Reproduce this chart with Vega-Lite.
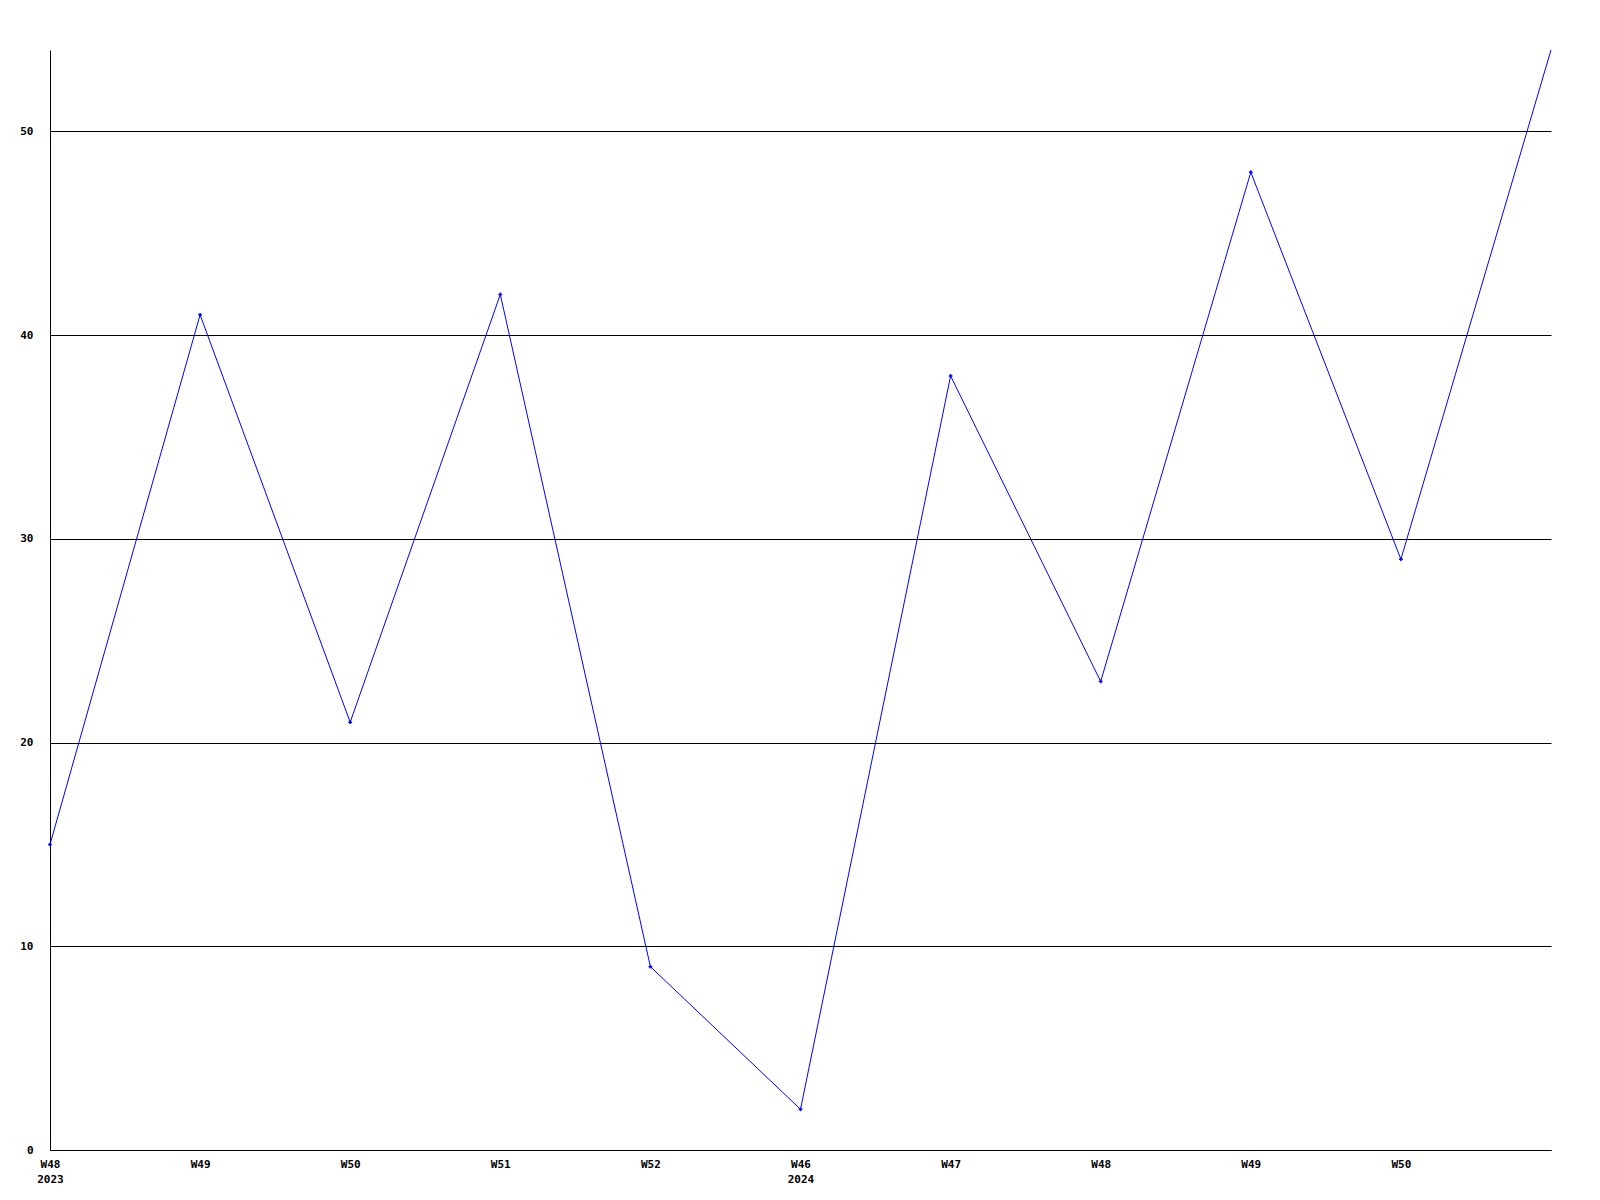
{
  "$schema": "https://vega.github.io/schema/vega-lite/v6.json",
  "width": 1501,
  "height": 1100,
  "autosize": {"type": "none"},
  "padding": {"left": 50, "top": 50, "right": 49, "bottom": 50},
  "background": "white",
  "config": {
    "view": {"stroke": null},
    "axis": {
      "labelFont": "DejaVu Sans Mono",
      "labelFontWeight": "bold",
      "labelFontSize": 11,
      "labelColor": "black",
      "domainColor": "black",
      "domainWidth": 1,
      "ticks": false,
      "title": null
    }
  },
  "data": {
    "values": [
      {"key": "2023-W48", "value": 15},
      {"key": "2023-W49", "value": 41},
      {"key": "2023-W50", "value": 21},
      {"key": "2023-W51", "value": 42},
      {"key": "2023-W52", "value": 9},
      {"key": "2024-W46", "value": 2},
      {"key": "2024-W47", "value": 38},
      {"key": "2024-W48", "value": 23},
      {"key": "2024-W49", "value": 48},
      {"key": "2024-W50", "value": 29},
      {"key": "2024-W51", "value": 54}
    ]
  },
  "encoding": {
    "x": {
      "field": "key",
      "type": "ordinal",
      "sort": null,
      "scale": {"type": "point", "padding": 0},
      "axis": {
        "labelAngle": 0,
        "labelPadding": 8,
        "labelLineHeight": 15,
        "labelAlign": "center",
        "labelBaseline": "top",
        "grid": false,
        "labelExpr": "datum.value == '2024-W51' ? '' : ((datum.value == '2023-W48' || datum.value == '2024-W46') ? [slice(datum.value, 5), slice(datum.value, 0, 4)] : slice(datum.value, 5))"
      }
    },
    "y": {
      "field": "value",
      "type": "quantitative",
      "scale": {"domain": [0, 54], "nice": false, "zero": true},
      "axis": {
        "values": [0, 10, 20, 30, 40, 50],
        "grid": true,
        "gridColor": "black",
        "gridOpacity": 1,
        "gridWidth": 1,
        "labelPadding": 17
      }
    }
  },
  "layer": [
    {"mark": {"type": "line", "color": "#0000ff", "strokeWidth": 1}},
    {
      "transform": [{"filter": "datum.key != '2024-W51'"}],
      "mark": {"type": "point", "shape": "cross", "filled": true, "color": "#0000ff", "size": 14, "opacity": 1}
    }
  ]
}
